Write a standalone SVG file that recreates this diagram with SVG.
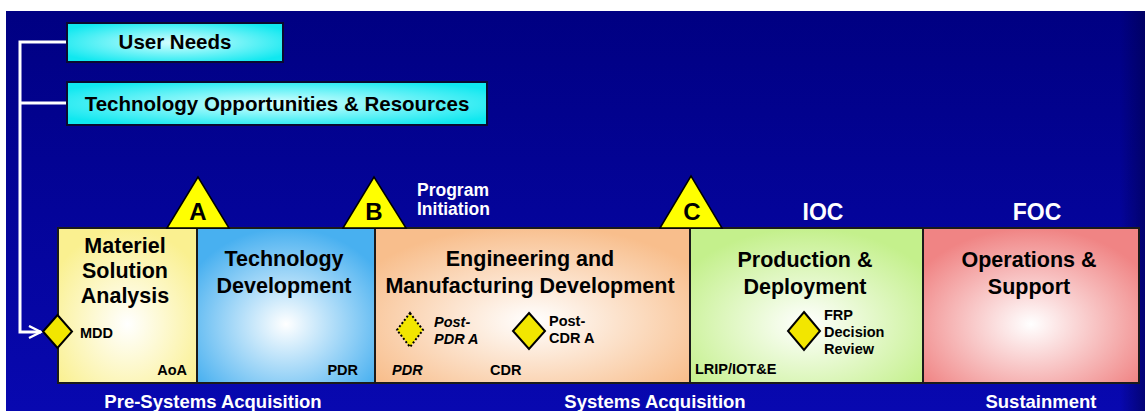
<svg xmlns="http://www.w3.org/2000/svg" width="1145" height="411" viewBox="0 0 1145 411">
<defs>
<linearGradient id="bg" x1="0" y1="0" x2="0" y2="1">
<stop offset="0" stop-color="#000082"/>
<stop offset="1" stop-color="#0808B0"/>
</linearGradient>
<linearGradient id="bgr" x1="0" y1="0" x2="1" y2="0">
<stop offset="0" stop-color="#000050" stop-opacity="0"/>
<stop offset="1" stop-color="#000050" stop-opacity="0.6"/>
</linearGradient>
<radialGradient id="gCyan" cx="0.5" cy="0.5" r="0.6">
<stop offset="0" stop-color="#D8FFFF"/>
<stop offset="1" stop-color="#10E8F0"/>
</radialGradient>
<radialGradient id="gY" cx="0.5" cy="0.62" r="0.62">
<stop offset="0" stop-color="#FFFFFF"/>
<stop offset="1" stop-color="#FAF090"/>
</radialGradient>
<radialGradient id="gB" cx="0.5" cy="0.62" r="0.62">
<stop offset="0" stop-color="#FFFFFF"/>
<stop offset="1" stop-color="#48B0F0"/>
</radialGradient>
<radialGradient id="gP" cx="0.5" cy="0.6" r="0.62">
<stop offset="0" stop-color="#FFFFFF"/>
<stop offset="1" stop-color="#F8BE8C"/>
</radialGradient>
<radialGradient id="gG" cx="0.5" cy="0.62" r="0.62">
<stop offset="0" stop-color="#FFFFFF"/>
<stop offset="1" stop-color="#C4F08C"/>
</radialGradient>
<radialGradient id="gR" cx="0.5" cy="0.62" r="0.62">
<stop offset="0" stop-color="#FFFFFF"/>
<stop offset="1" stop-color="#F08484"/>
</radialGradient>
<marker id="arr" viewBox="0 0 10 10" refX="9" refY="5" markerWidth="5" markerHeight="5" orient="auto" markerUnits="strokeWidth">
<path d="M1,1 L9,5 L1,9" fill="none" stroke="#FFFFFF" stroke-width="1.6"/>
</marker>
</defs>
<style>
text{font-family:"Liberation Sans",Arial,sans-serif;font-weight:bold;}
.box{stroke:#1A1A1A;stroke-width:2;}
.top{stroke:#0A0A30;stroke-width:2;}
.tri{fill:#FFFF00;stroke:#000000;stroke-width:1.5;}
.dia{fill:#F2E600;stroke:#000000;stroke-width:2;}
.dot{fill:#F2E600;stroke:#000000;stroke-width:2;stroke-dasharray:2 2;}
.title{font-size:21.5px;fill:#000000;text-anchor:middle;}
.small{font-size:14.5px;fill:#000000;}
.wht{fill:#FFFFFF;}
.conn{fill:none;stroke:#FFFFFF;stroke-width:3;}
</style>
<rect x="0" y="0" width="1145" height="411" fill="#FFFFFF"/>
<rect x="6" y="11" width="1139" height="400" fill="url(#bg)"/>
<rect x="1120" y="11" width="25" height="400" fill="url(#bgr)"/>

<g id="connectors">
<path class="conn" d="M67,42 H20 V332 H41" marker-end="url(#arr)"/>
<path class="conn" d="M67,103 H20"/>
</g>

<g id="user-needs">
<rect class="top" x="67" y="23" width="216" height="39" fill="url(#gCyan)"/>
<text x="175" y="49" font-size="20.5" text-anchor="middle" fill="#000">User Needs</text>
</g>
<g id="tech-opp">
<rect class="top" x="67" y="82" width="420" height="43" fill="url(#gCyan)"/>
<text x="277" y="111" font-size="20.5" text-anchor="middle" fill="#000">Technology Opportunities &amp; Resources</text>
</g>

<g id="msa">
<rect class="box" x="58" y="228" width="139" height="155" fill="url(#gY)"/>
<text class="title" x="125" y="253">Materiel</text>
<text class="title" x="125" y="278">Solution</text>
<text class="title" x="125" y="303">Analysis</text>
<text class="small" x="80" y="338">MDD</text>
<text class="small" x="187" y="375" text-anchor="end">AoA</text>
</g>
<g id="td">
<rect class="box" x="197" y="228" width="178" height="155" fill="url(#gB)"/>
<text class="title" x="284" y="266">Technology</text>
<text class="title" x="284" y="293">Development</text>
<text class="small" x="358" y="375" text-anchor="end">PDR</text>
</g>
<g id="emd">
<rect class="box" x="375" y="228" width="315" height="155" fill="url(#gP)"/>
<text class="title" x="530" y="266">Engineering and</text>
<text class="title" x="530" y="293">Manufacturing Development</text>
<text class="small" x="392" y="375" font-style="italic" fill="#333">PDR</text>
<text class="small" x="490" y="375">CDR</text>
</g>
<g id="pd">
<rect class="box" x="690" y="228" width="233" height="155" fill="url(#gG)"/>
<text class="title" x="805" y="267">Production &amp;</text>
<text class="title" x="805" y="294">Deployment</text>
<text class="small" x="695" y="374">LRIP/IOT&amp;E</text>
</g>
<g id="os">
<rect class="box" x="923" y="228" width="216" height="155" fill="url(#gR)"/>
<text class="title" x="1029" y="267">Operations &amp;</text>
<text class="title" x="1029" y="294">Support</text>
</g>

<g id="milestone-a">
<polygon class="tri" points="167,228 198,177 229,228"/>
<text x="198" y="220" font-size="24" text-anchor="middle" fill="#000">A</text>
</g>
<g id="milestone-b">
<polygon class="tri" points="343,228 374,177 406,228"/>
<text x="374" y="220" font-size="24" text-anchor="middle" fill="#000">B</text>
</g>
<g id="milestone-c">
<polygon class="tri" points="660,228 691,176 722,228"/>
<text x="692" y="220" font-size="24" text-anchor="middle" fill="#000">C</text>
</g>
<g id="program-initiation">
<text class="wht" x="417" y="196" font-size="17.5">Program</text>
<text class="wht" x="417" y="215" font-size="17.5">Initiation</text>
</g>
<g id="ioc">
<text class="wht" x="823" y="220" font-size="23" text-anchor="middle">IOC</text>
</g>
<g id="foc">
<text class="wht" x="1037" y="220" font-size="23" text-anchor="middle">FOC</text>
</g>

<g id="mdd-diamond">
<polygon class="dia" points="57.5,315 72,331.5 57.5,348 43,331.5"/>
</g>
<g id="post-pdr-a">
<polygon class="dot" points="410,313 423,330 410,347 397,330"/>
<text class="small" x="434" y="327" font-style="italic" font-size="15">Post-</text>
<text class="small" x="434" y="344" font-style="italic" font-size="15">PDR A</text>
</g>
<g id="post-cdr-a">
<polygon class="dia" points="529,313 545,331 529,349 513,331"/>
<text class="small" x="549" y="326" font-size="15">Post-</text>
<text class="small" x="549" y="343" font-size="15">CDR A</text>
</g>
<g id="frp">
<polygon class="dia" points="804,312 820,331 804,350 788,331"/>
<text class="small" x="824" y="320" font-size="15">FRP</text>
<text class="small" x="824" y="337" font-size="15">Decision</text>
<text class="small" x="824" y="354" font-size="15">Review</text>
</g>

<g id="phase-labels">
<text class="wht" x="213" y="408" font-size="18.5" text-anchor="middle">Pre-Systems Acquisition</text>
<text class="wht" x="655" y="408" font-size="18.5" text-anchor="middle">Systems Acquisition</text>
<text class="wht" x="1041" y="408" font-size="18.5" text-anchor="middle">Sustainment</text>
</g>
</svg>
